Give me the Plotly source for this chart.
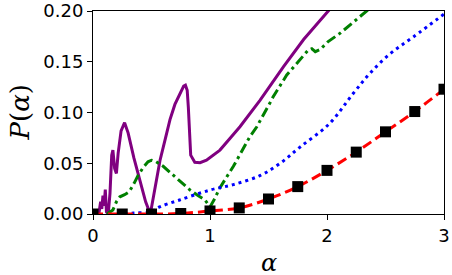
import plotly.graph_objects as go

# purple solid
purple_a = [0.0, 0.05, 0.065, 0.075, 0.085, 0.095, 0.105, 0.115, 0.13, 0.145, 0.16, 0.17, 0.185, 0.2,
            0.215, 0.24, 0.27, 0.3, 0.35, 0.4, 0.45, 0.49, 0.52, 0.573, 0.62, 0.658, 0.7, 0.744, 0.775,
            0.79, 0.805, 0.815, 0.825, 0.835, 0.87, 0.915, 0.97, 1.085, 1.17, 1.256, 1.427, 1.627,
            1.8, 2.01, 2.1]
purple_p = [0.0, 0.0, 0.012, 0.005, 0.018, 0.008, 0.024, 0.002, 0.0, 0.02, 0.058, 0.063, 0.045, 0.04,
            0.06, 0.082, 0.09, 0.08, 0.055, 0.033, 0.012, 0.0, 0.02, 0.053, 0.075, 0.093, 0.108, 0.119,
            0.126, 0.127, 0.122, 0.105, 0.075, 0.058, 0.051, 0.0505, 0.053, 0.063, 0.0745, 0.086,
            0.112, 0.145, 0.172, 0.2, 0.212]

# green dash-dot
green_a = [0.12, 0.17, 0.2, 0.23, 0.27, 0.31, 0.35, 0.385, 0.43, 0.47, 0.5, 0.54, 0.6, 0.686, 0.76,
           0.83, 0.9, 0.957, 1.0, 1.04, 1.085, 1.2, 1.34, 1.4, 1.51, 1.54, 1.656, 1.77, 1.84, 1.87,
           1.9, 1.94, 2.01, 2.11, 2.325, 2.4]
green_p = [0.0, 0.004, 0.012, 0.017, 0.019, 0.022, 0.03, 0.038, 0.046, 0.0515, 0.053, 0.0515, 0.047,
           0.038, 0.03, 0.0236, 0.018, 0.0138, 0.007, 0.015, 0.026, 0.047, 0.076, 0.086, 0.109,
           0.1156, 0.137, 0.152, 0.1616, 0.163, 0.16, 0.162, 0.17, 0.178, 0.199, 0.206]

# blue dotted
blue_a = [0.27, 0.35, 0.49, 0.57, 0.74, 1.0, 1.2, 1.43, 1.6, 1.77, 2.02, 2.225, 2.37, 2.54, 2.74, 3.0]
blue_p = [0.0, 0.001, 0.002, 0.007, 0.0138, 0.0236, 0.029, 0.038, 0.05, 0.066, 0.089, 0.119, 0.139,
          0.158, 0.1747, 0.197]

# red dashed with black squares
sq_a = [0.0, 0.25, 0.5, 0.75, 1.0, 1.25, 1.5, 1.75, 2.0, 2.25, 2.5, 2.75, 3.0]
sq_p = [0.0, 0.0, 0.0, 0.0005, 0.003, 0.006, 0.0148, 0.027, 0.043, 0.061, 0.081, 0.101, 0.123]

x_ticks = [0, 1, 2, 3]
y_ticks = [0.0, 0.05, 0.10, 0.15, 0.20]

fig = go.Figure()
fig.add_trace(go.Scatter(x=purple_a, y=purple_p, mode="lines",
                         line=dict(color="#800080", width=3)))
fig.add_trace(go.Scatter(x=green_a, y=green_p, mode="lines",
                         line=dict(color="#008000", width=3, dash="10px,4px,3px,4px")))
fig.add_trace(go.Scatter(x=blue_a, y=blue_p, mode="lines", line_shape="spline",
                         line=dict(color="#0000ff", width=3, dash="3px,4px")))
fig.add_trace(go.Scatter(x=sq_a, y=sq_p, mode="lines", line_shape="spline",
                         line=dict(color="#ff0000", width=3, dash="10px,5px")))
fig.add_trace(go.Scatter(x=sq_a, y=sq_p, mode="markers",
                         marker=dict(symbol="square", color="black", size=11)))

axis_common = dict(showgrid=False, zeroline=False, showline=True, linecolor="black", linewidth=1,
                   mirror=True, ticks="outside", ticklen=5, tickwidth=1, tickcolor="black",
                   automargin=False,
                   tickfont=dict(family="DejaVu Sans", size=18, color="black"))
fig.update_xaxes(range=[0, 3], tickvals=x_ticks, ticktext=[str(t) for t in x_ticks], **axis_common)
fig.update_yaxes(range=[0, 0.2001], tickvals=y_ticks, ticktext=[f"{t:.2f}" for t in y_ticks], **axis_common)

fig.add_annotation(text="<i>α</i>", xref="paper", yref="paper", x=0.5, y=0, yshift=-49,
                   xanchor="center", yanchor="middle", showarrow=False,
                   font=dict(family="DejaVu Serif", size=24, color="black"))
fig.add_annotation(text="<i>P</i>(<i>α</i>)", xref="paper", yref="paper", x=0, y=0.5, xshift=-74,
                   xanchor="center", yanchor="middle", showarrow=False, textangle=-90,
                   font=dict(family="DejaVu Serif", size=26, color="black"))

fig.update_layout(width=452, height=275, margin=dict(l=93, r=8, t=11, b=61),
                  plot_bgcolor="white", paper_bgcolor="white", showlegend=False)
fig.write_html("out.html", config={"displayModeBar": False},
               post_script="document.body.style.margin='0';document.body.style.overflow='hidden';")
